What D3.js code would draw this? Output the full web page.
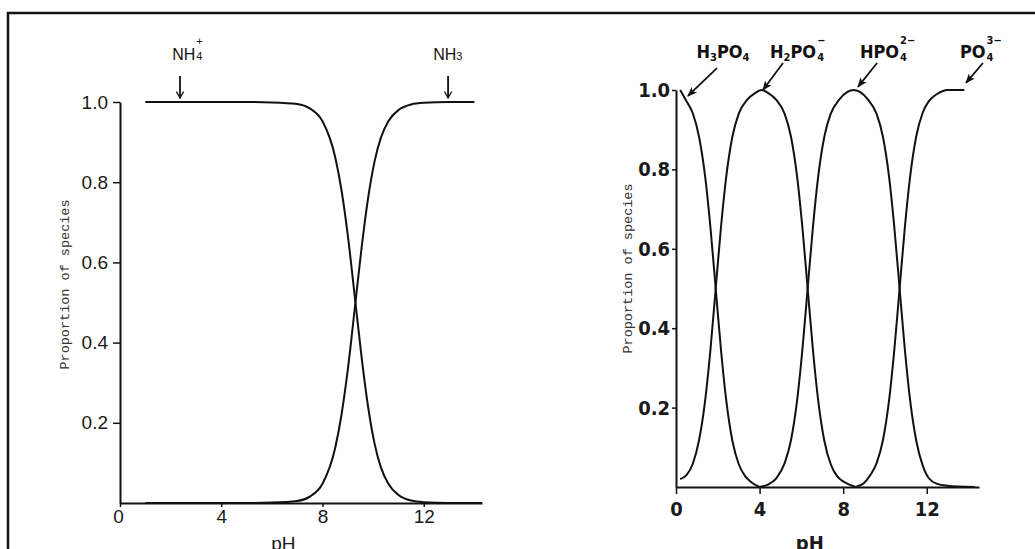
<!DOCTYPE html>
<html>
<head>
<meta charset="utf-8">
<script src="https://cdn.jsdelivr.net/npm/d3@7/dist/d3.min.js"></script>
<style>
  body { margin: 0; background: #fff; }
  svg { display: block; }
</style>
</head>
<body>
<div id="chart"></div>
<script>
// ---- data ----
// left panel: ammonium / ammonia
const phNH4 = [1, 2, 3, 4, 5, 6, 7, 7.5, 8, 8.5, 8.75, 9, 9.3, 9.55, 9.8, 10.05, 10.3, 10.6, 11, 11.5, 12, 13, 14.3];
const nh4   = [1, 1, 1, 1, 1, 0.999, 0.995, 0.984, 0.952, 0.863, 0.78, 0.667, 0.5, 0.36, 0.24, 0.15, 0.09, 0.048, 0.02, 0.006, 0.002, 0, 0];
const phNH3 = [1, 2, 3, 4, 5, 6, 7, 7.5, 8, 8.5, 8.75, 9, 9.3, 9.55, 9.8, 10.05, 10.3, 10.6, 11, 11.5, 12, 13, 14.0];
const nh3   = [0, 0, 0, 0, 0, 0.001, 0.005, 0.016, 0.048, 0.137, 0.22, 0.333, 0.5, 0.64, 0.76, 0.85, 0.91, 0.952, 0.98, 0.994, 0.998, 1, 1];

// right panel: phosphate species
const phH3PO4 = [0.2, 0.5, 0.8, 1.1, 1.4, 1.65, 1.9, 2.15, 2.4, 2.7, 3.0, 3.3, 3.6, 4.0];
const h3po4   = [1.0, 0.972, 0.942, 0.883, 0.78, 0.653, 0.5, 0.347, 0.22, 0.116, 0.058, 0.028, 0.012, 0];
const phH2PO4 = [0.2, 0.5, 0.8, 1.1, 1.4, 1.65, 1.9, 2.15, 2.4, 2.7, 3.0, 3.4, 3.8, 4.1, 4.4, 4.8, 5.2, 5.5, 5.8, 6.05, 6.3, 6.55, 6.8, 7.1, 7.4, 7.7, 8.0, 8.3, 8.6];
const h2po4   = [0.02, 0.03, 0.058, 0.117, 0.22, 0.347, 0.5, 0.653, 0.78, 0.883, 0.94, 0.975, 0.993, 1.0, 0.993, 0.975, 0.94, 0.883, 0.78, 0.653, 0.5, 0.347, 0.22, 0.116, 0.058, 0.028, 0.014, 0.006, 0];
const phHPO4  = [4.0, 4.4, 4.8, 5.2, 5.5, 5.8, 6.05, 6.3, 6.55, 6.8, 7.1, 7.4, 7.8, 8.2, 8.5, 8.8, 9.2, 9.6, 9.9, 10.2, 10.45, 10.7, 10.95, 11.2, 11.5, 11.8, 12.1, 12.5, 13.0, 13.5, 14.3];
const hpo4    = [0, 0.006, 0.022, 0.06, 0.117, 0.22, 0.347, 0.5, 0.653, 0.78, 0.883, 0.94, 0.975, 0.995, 1.0, 0.995, 0.975, 0.94, 0.883, 0.78, 0.653, 0.5, 0.347, 0.22, 0.116, 0.055, 0.022, 0.008, 0.003, 0.001, 0];
const phPO4   = [8.6, 9.0, 9.3, 9.6, 9.9, 10.2, 10.45, 10.7, 10.95, 11.2, 11.5, 11.8, 12.1, 12.5, 13.0, 13.8];
const po4     = [0, 0.01, 0.03, 0.06, 0.117, 0.22, 0.347, 0.5, 0.653, 0.78, 0.884, 0.942, 0.972, 0.99, 1.0, 1.0];

const xTicks = [0, 4, 8, 12];
const yTicks = [0.2, 0.4, 0.6, 0.8, 1.0];
const yTitle = 'Proportion of species';
const xTitle = 'pH';

// species labels: name parts (text, isSub), stacked sub/sup, label pH, arrow tail and tip [pH, proportion]
const leftLabels = [
  { parts: [['NH', false]], sub: '4', sup: '+', at: 2.06, tail: [2.37, 1.065], tip: [2.37, 1.01] },
  { parts: [['NH', false], ['3', true]], sub: '', sup: '', at: 12.37, tail: [12.96, 1.065], tip: [12.96, 1.01] }
];
const rightLabels = [
  { parts: [['H', false], ['3', true], ['PO', false], ['4', true]], sub: '', sup: '', at: 0.98, tail: [1.96, 1.055], tip: [0.57, 0.985] },
  { parts: [['H', false], ['2', true], ['PO', false]], sub: '4', sup: '\u2212', at: 4.5, tail: [5.12, 1.068], tip: [4.16, 1.0] },
  { parts: [['HPO', false]], sub: '4', sup: '2\u2212', at: 8.8, tail: [9.62, 1.068], tip: [8.71, 1.008] },
  { parts: [['PO', false]], sub: '4', sup: '3\u2212', at: 13.59, tail: [14.69, 1.068], tip: [13.88, 1.018] }
];

// ---- drawing ----
const W = 1035, H = 549;
const INK = '#111';

const svg = d3.select('#chart').append('svg')
  .attr('width', W)
  .attr('height', H);

const defs = svg.append('defs');
defs.append('marker')
  .attr('id', 'vhead')
  .attr('viewBox', '0 -5 10 10')
  .attr('refX', 9).attr('refY', 0)
  .attr('markerWidth', 8).attr('markerHeight', 8)
  .attr('markerUnits', 'userSpaceOnUse')
  .attr('orient', 'auto')
  .append('path')
  .attr('d', 'M1,-4.5L9,0L1,4.5')
  .attr('fill', 'none')
  .attr('stroke', INK)
  .attr('stroke-width', 1.6);
defs.append('marker')
  .attr('id', 'solidhead')
  .attr('viewBox', '0 -5 10 10')
  .attr('refX', 9).attr('refY', 0)
  .attr('markerWidth', 10).attr('markerHeight', 10)
  .attr('markerUnits', 'userSpaceOnUse')
  .attr('orient', 'auto')
  .append('path')
  .attr('d', 'M0,-4L10,0L0,4L2.5,0Z')
  .attr('fill', INK);

// scan frame (top and left edges)
svg.append('path')
  .attr('d', `M8,${H}V13H${W}`)
  .attr('fill', 'none')
  .attr('stroke', INK)
  .attr('stroke-width', 2.5);

function styleText(sel, cfg, size) {
  return sel
    .style('font-family', cfg.font)
    .style('font-weight', cfg.weight)
    .style('font-stretch', cfg.stretch)
    .style('font-size', size + 'px');
}

function drawPanel(cfg) {
  const x = d3.scaleLinear().domain([0, cfg.xMax]).range([cfg.left, cfg.right]);
  const y = d3.scaleLinear().domain([0, 1]).range([cfg.bottom, cfg.top]);
  const g = svg.append('g');

  // axes
  const yAxis = d3.axisLeft(y)
    .tickValues(yTicks)
    .tickFormat(d3.format('.1f'))
    .tickSize(cfg.yTickSize)
    .tickSizeOuter(0)
    .tickPadding(cfg.yTickPad);
  const xAxis = d3.axisBottom(x)
    .tickValues(xTicks)
    .tickFormat(d3.format('d'))
    .tickSize(cfg.xTickSize)
    .tickSizeOuter(0)
    .tickPadding(cfg.xTickPad);

  const yg = g.append('g')
    .attr('transform', `translate(${cfg.left},0)`)
    .call(yAxis);
  const xg = g.append('g')
    .attr('transform', `translate(0,${cfg.bottom})`)
    .call(xAxis);

  [yg, xg].forEach(a => {
    a.select('.domain').attr('stroke', INK).attr('stroke-width', 2);
    a.selectAll('.tick line').attr('stroke', INK).attr('stroke-width', 1.5);
    styleText(a.selectAll('.tick text').attr('fill', '#1a1a1a'), cfg, cfg.tickFontSize);
  });
  xg.selectAll('.tick text').filter(d => d === 0).attr('dx', cfg.zeroDx);

  // axis titles
  g.append('text')
    .attr('transform', `translate(${cfg.yTitleX},${(cfg.top + cfg.bottom) / 2 + cfg.yTitleDy}) rotate(-90)`)
    .attr('text-anchor', 'middle')
    .style('font-family', '"Liberation Mono", "DejaVu Sans Mono", monospace')
    .style('font-size', '13.5px')
    .attr('fill', '#333')
    .text(yTitle);
  styleText(g.append('text'), cfg, cfg.tickFontSize)
    .attr('x', x(cfg.xTitleAt))
    .attr('y', 550)
    .attr('text-anchor', 'middle')
    .attr('fill', '#1a1a1a')
    .text(xTitle);

  // curves
  const line = d3.line()
    .x(d => x(d[0]))
    .y(d => y(d[1]))
    .curve(d3.curveMonotoneX);
  g.selectAll('.curve')
    .data(cfg.series)
    .join('path')
    .attr('class', 'curve')
    .attr('fill', 'none')
    .attr('stroke', INK)
    .attr('stroke-width', 2)
    .attr('stroke-linejoin', 'round')
    .attr('d', s => line(d3.zip(s[0], s[1])));

  // species labels with arrows
  cfg.labels.forEach(lb => {
    g.append('line')
      .attr('x1', x(lb.tail[0])).attr('y1', y(lb.tail[1]))
      .attr('x2', x(lb.tip[0])).attr('y2', y(lb.tip[1]))
      .attr('stroke', INK)
      .attr('stroke-width', 1.8)
      .attr('marker-end', `url(#${cfg.head})`);

    const t = styleText(g.append('text'), cfg, cfg.labelSize)
      .attr('x', x(lb.at))
      .attr('y', cfg.labelBase)
      .attr('fill', INK);
    let shifted = false;
    lb.parts.forEach(([txt, isSub]) => {
      const sp = t.append('tspan').text(txt);
      if (isSub) {
        sp.style('font-size', cfg.subSize + 'px').attr('dy', cfg.subDrop);
        shifted = true;
      } else if (shifted) {
        sp.attr('dy', -cfg.subDrop);
        shifted = false;
      }
    });
    const endX = x(lb.at) + t.node().getComputedTextLength();
    if (lb.sub) {
      styleText(g.append('text'), cfg, cfg.subSize)
        .attr('x', endX + 1).attr('y', cfg.labelBase + cfg.subDrop)
        .attr('fill', INK)
        .text(lb.sub);
    }
    if (lb.sup) {
      styleText(g.append('text'), cfg, cfg.subSize)
        .attr('x', endX + 1).attr('y', cfg.labelBase - cfg.supRise)
        .attr('fill', INK)
        .text(lb.sup);
    }
  });
}

drawPanel({
  left: 120, right: 482, top: 102, bottom: 503, xMax: 14.3,
  font: '"Liberation Sans", Arial, sans-serif', weight: 'normal', stretch: 'normal',
  tickFontSize: 19, yTickSize: 7, yTickPad: 5, xTickSize: 4, xTickPad: 3, zeroDx: -2,
  yTitleX: 69, yTitleDy: -18, xTitleAt: 6.45,
  series: [[phNH4, nh4], [phNH3, nh3]],
  labels: leftLabels, head: 'vhead',
  labelBase: 60, labelSize: 16, subSize: 11, subDrop: 0, supRise: 15
});

drawPanel({
  left: 676, right: 979, top: 90, bottom: 487, xMax: 14.5,
  font: '"DejaVu Sans", sans-serif', weight: 'bold', stretch: 'condensed',
  tickFontSize: 20, yTickSize: 4, yTickPad: 2, xTickSize: 7, xTickPad: 8, zeroDx: 0,
  yTitleX: 632, yTitleDy: -20, xTitleAt: 6.4,
  series: [[phH3PO4, h3po4], [phH2PO4, h2po4], [phHPO4, hpo4], [phPO4, po4]],
  labels: rightLabels, head: 'solidhead',
  labelBase: 58, labelSize: 18, subSize: 11, subDrop: 3, supRise: 14
});
</script>
</body>
</html>
